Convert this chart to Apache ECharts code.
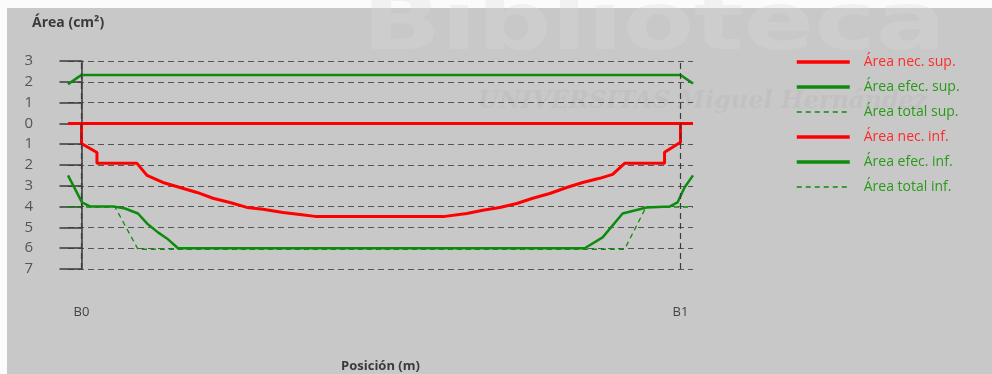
<!DOCTYPE html>
<html>
<head>
<meta charset="utf-8">
<script src="https://cdn.jsdelivr.net/npm/echarts@6/dist/echarts.min.js"></script>
<style>
  html, body { margin: 0; padding: 0; background: #fbfbfb; }
  #chart { width: 992px; height: 374px; }
</style>
</head>
<body>
<div id="chart"></div>
<script>
// Support positions (m): B0 at 0, B1 at 6
const supportNames = ['B0', 'B1'];
const supportPos = [0, 6];
const xMin = -0.135, xMax = 6.125;

// Steel areas (cm²); lower face drawn as negative values
const necSup = [[-0.135, 0], [6.125, 0]];
const efecSup = [[-0.135, 1.88], [-0.04, 2.2], [0, 2.33], [6.0, 2.33], [6.125, 1.92]];
const totalSup = [[-0.135, 1.88], [-0.04, 2.2], [0, 2.33], [6.0, 2.33], [6.125, 1.92]];
const necInf = [
  [-0.135, 0], [0, 0], [0, -0.97], [0.155, -1.4], [0.155, -1.92], [0.556, -1.92],
  [0.656, -2.5], [0.816, -2.84], [0.987, -3.08], [1.157, -3.32], [1.317, -3.6],
  [1.487, -3.8], [1.657, -4.04], [1.818, -4.13], [2.018, -4.28], [2.188, -4.38],
  [2.338, -4.47], [3.64, -4.47], [3.86, -4.33], [4.02, -4.18], [4.19, -4.04],
  [4.36, -3.85], [4.52, -3.6], [4.69, -3.37], [4.86, -3.08], [5.02, -2.84],
  [5.19, -2.64], [5.32, -2.45], [5.44, -1.92], [5.84, -1.92], [5.84, -1.39],
  [6.0, -0.91], [6.0, 0], [6.125, 0]
];
const efecInf = [
  [-0.135, -2.5], [0.005, -3.8], [0.085, -3.99], [0.316, -3.99], [0.436, -4.09],
  [0.566, -4.33], [0.656, -4.81], [0.766, -5.24], [0.856, -5.53], [0.967, -6.0],
  [5.04, -6.0], [5.22, -5.48], [5.42, -4.33], [5.46, -4.28], [5.66, -4.04],
  [5.89, -4.0], [5.97, -3.8], [6.04, -3.08], [6.125, -2.5]
];
const totalInf = [
  [-0.135, -4.02], [0.336, -4.02], [0.566, -6.05], [5.44, -6.05],
  [5.655, -4.02], [6.125, -4.02]
];

const seriesNames = ['Área nec. sup.', 'Área efec. sup.', 'Área total sup.',
                     'Área nec. inf.', 'Área efec. inf.', 'Área total inf.'];
const RED = '#ff0000', GREEN = '#0c8c0c';
const FONT = 'Open Sans';

const chart = echarts.init(document.getElementById('chart'));

function line(name, data, color, width, dashed) {
  return {
    name: name, type: 'line', data: data, showSymbol: false, symbol: 'none',
    lineStyle: { color: color, width: width, type: dashed ? [5, 4] : 'solid' },
    itemStyle: { color: color },
    silent: true, z: 3
  };
}

const series = [
  line(seriesNames[0], necSup, RED, 3, false),
  line(seriesNames[1], efecSup, GREEN, 2.5, false),
  line(seriesNames[2], totalSup, GREEN, 1.3, true),
  line(seriesNames[3], necInf, RED, 3, false),
  line(seriesNames[4], efecInf, GREEN, 2.5, false),
  line(seriesNames[5], totalInf, GREEN, 1.3, true)
];
// vertical dashed guides at the supports
series[0].markLine = {
  silent: true, symbol: 'none', label: { show: false },
  lineStyle: { color: '#3a3a3a', type: [6, 4], width: 1.2 },
  data: supportPos.map(p => ({ xAxis: p }))
};

chart.setOption({
  animation: false,
  backgroundColor: '#fbfbfb',
  textStyle: { fontFamily: FONT },
  graphic: [
    { type: 'rect', left: 7, top: 8, z: -10, shape: { width: 985, height: 366 },
      style: { fill: '#c8c8c8' } },
    { type: 'text', left: 362, top: -12, z: -5, scaleX: 1.3,
      style: { text: 'Biblioteca', font: 'bold 80px "DejaVu Sans"', fill: 'rgba(219,219,219,0.3)' } },
    { type: 'text', left: 478, top: 90, z: -5,
      style: { text: 'UNIVERSITAS Miguel Hernández', font: 'italic bold 24px "DejaVu Serif"', fill: 'rgba(150,150,150,0.12)' } }
  ],
  title: {
    text: 'Área (cm²)', left: 27, top: 11,
    textStyle: { fontFamily: FONT, fontSize: 14, fontWeight: 'bold', color: '#3a3a3a' }
  },
  legend: {
    orient: 'vertical', left: 795, top: 55, padding: 0,
    itemWidth: 53, itemHeight: 14, itemGap: 11,
    itemStyle: { opacity: 0 },
    textStyle: { fontFamily: FONT, fontSize: 14, padding: [0, 0, 0, 9] },
    data: seriesNames.map((n, i) => ({
      name: n,
      lineStyle: { width: (i % 3 === 2) ? 1.3 : 3.5 },
      textStyle: { color: (i % 3 === 0) ? '#ff2a2a' : '#2a9a1a' }
    }))
  },
  grid: { left: 68, right: 299, top: 61, bottom: 105, containLabel: false, outerBoundsMode: 'none' },
  xAxis: {
    type: 'value', min: xMin, max: xMax,
    name: 'Posición (m)', nameLocation: 'middle', nameGap: 91,
    nameTextStyle: { fontFamily: FONT, fontSize: 13, fontWeight: 'bold', color: '#3a3a3a' },
    axisLine: { show: false },
    axisTick: { show: true, length: 20, customValues: supportPos,
                lineStyle: { color: '#3a3a3a', width: 1.2 } },
    axisLabel: {
      customValues: supportPos, margin: 37, fontSize: 13, color: '#444',
      formatter: v => supportNames[supportPos.indexOf(v)] || ''
    },
    splitLine: { show: false }
  },
  yAxis: {
    type: 'value', min: -7, max: 3, interval: 1,
    axisLine: { show: true, lineStyle: { color: '#3a3a3a', width: 1.5 } },
    axisTick: { show: true, length: 22, lineStyle: { color: '#3a3a3a', width: 1.5 } },
    axisLabel: { margin: 35, fontSize: 15, color: '#555', formatter: v => String(Math.abs(v)) },
    splitLine: { show: true, lineStyle: { color: '#555', type: [6, 4], width: 1 } }
  },
  series: series
});
</script>
</body>
</html>
